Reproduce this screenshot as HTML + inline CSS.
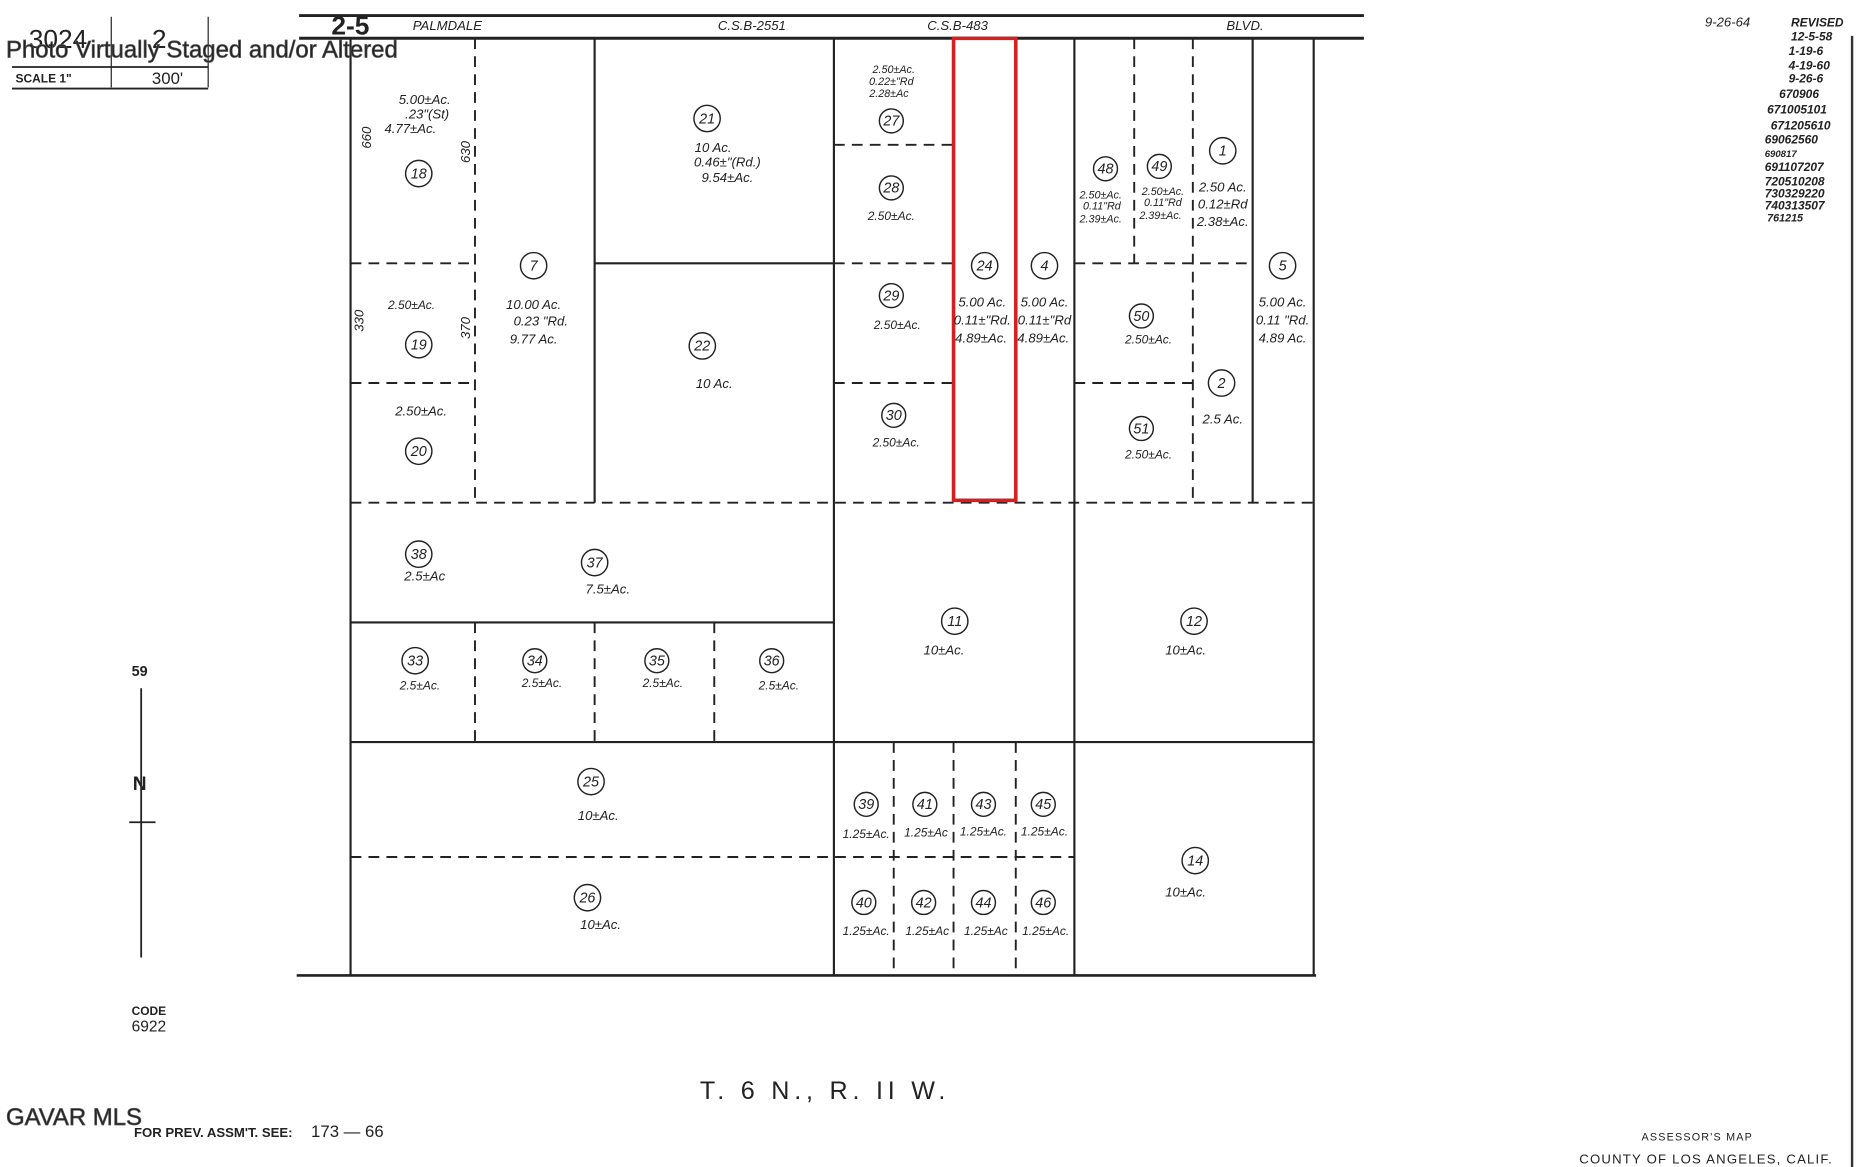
<!DOCTYPE html>
<html><head><meta charset="utf-8"><style>
html,body{margin:0;padding:0;background:#fff;width:1876px;height:1167px;overflow:hidden}
svg{display:block}
text{font-family:"Liberation Sans",sans-serif;fill:#222}
.i{font-style:italic;font-size:11px}
.n{font-style:italic;font-size:12px}
</style></head><body>
<svg width="1876" height="1167" viewBox="0 0 1568 975" preserveAspectRatio="none">
<g stroke="#222" stroke-width="1.8" fill="none">
<line x1="250" y1="13" x2="1140" y2="13" stroke-width="2.5"/>
<line x1="250" y1="32" x2="1140" y2="32" stroke-width="2.5"/>
<line x1="293" y1="32" x2="293" y2="815"/>
<line x1="248" y1="815" x2="1100" y2="815" stroke-width="2.2"/>
<line x1="1098" y1="32" x2="1098" y2="815"/>
<line x1="497" y1="32" x2="497" y2="420"/>
<line x1="697" y1="32" x2="697" y2="815"/>
<line x1="898" y1="32" x2="898" y2="815"/>
<line x1="293" y1="520" x2="697" y2="520"/>
<line x1="293" y1="620" x2="1098" y2="620"/>
<line x1="497" y1="220" x2="697" y2="220"/>
<line x1="1047" y1="32" x2="1047" y2="420"/>
<line x1="849" y1="32" x2="849" y2="420"/>
</g>
<g stroke="#222" stroke-width="1.6" fill="none" stroke-dasharray="9,6">
<line x1="397" y1="32" x2="397" y2="420"/>
<line x1="397" y1="520" x2="397" y2="620"/>
<line x1="497" y1="520" x2="497" y2="620"/>
<line x1="597" y1="520" x2="597" y2="620"/>
<line x1="948" y1="32" x2="948" y2="220"/>
<line x1="997" y1="32" x2="997" y2="420"/>
<line x1="747" y1="620" x2="747" y2="815"/>
<line x1="797" y1="620" x2="797" y2="815"/>
<line x1="849" y1="620" x2="849" y2="815"/>
<line x1="293" y1="220" x2="397" y2="220"/>
<line x1="293" y1="320" x2="397" y2="320"/>
<line x1="898" y1="220" x2="1047" y2="220"/>
<line x1="898" y1="320" x2="997" y2="320"/>
<line x1="697" y1="121" x2="797" y2="121"/>
<line x1="697" y1="220" x2="797" y2="220"/>
<line x1="697" y1="320" x2="797" y2="320"/>
<line x1="293" y1="420" x2="1098" y2="420"/>
<line x1="293" y1="716" x2="898" y2="716"/>
</g>
<rect x="797" y="32" width="52" height="386" fill="none" stroke="#d42020" stroke-width="3"/>
<g stroke="#222" stroke-width="1.2" fill="none">
<circle cx="350" cy="145" r="11"/><circle cx="446" cy="222" r="11"/><circle cx="591" cy="99" r="11"/>
<circle cx="745" cy="101" r="10"/><circle cx="745" cy="157" r="10"/><circle cx="823" cy="222" r="11"/>
<circle cx="873" cy="222" r="11"/><circle cx="924" cy="141" r="10"/><circle cx="969" cy="139" r="10"/>
<circle cx="1022" cy="126" r="11"/><circle cx="1072" cy="222" r="11"/><circle cx="350" cy="288" r="11"/>
<circle cx="587" cy="289" r="11"/><circle cx="745" cy="247" r="10"/><circle cx="954" cy="264" r="10"/>
<circle cx="1021" cy="320" r="11"/><circle cx="350" cy="377" r="11"/><circle cx="747" cy="347" r="10"/>
<circle cx="954" cy="358" r="10"/><circle cx="350" cy="463" r="11"/><circle cx="497" cy="470" r="11"/>
<circle cx="798" cy="519" r="11"/><circle cx="998" cy="519" r="11"/><circle cx="347" cy="552" r="11"/>
<circle cx="447" cy="552" r="10"/><circle cx="549" cy="552" r="10"/><circle cx="645" cy="552" r="10"/>
<circle cx="494" cy="653" r="11"/><circle cx="724" cy="672" r="10"/><circle cx="773" cy="672" r="10"/>
<circle cx="822" cy="672" r="10"/><circle cx="872" cy="672" r="10"/><circle cx="999" cy="719" r="11"/>
<circle cx="491" cy="750" r="11"/><circle cx="722" cy="754" r="10"/><circle cx="772" cy="754" r="10"/>
<circle cx="822" cy="754" r="10"/><circle cx="872" cy="754" r="10"/>
</g>
<g class="n" text-anchor="middle" font-size="12">
<text x="350" y="149" class="n">18</text><text x="446" y="226" class="n">7</text><text x="591" y="103" class="n">21</text>
<text x="745" y="105" class="n">27</text><text x="745" y="161" class="n">28</text><text x="823" y="226" class="n">24</text>
<text x="873" y="226" class="n">4</text><text x="924" y="145" class="n">48</text><text x="969" y="143" class="n">49</text>
<text x="1022" y="130" class="n">1</text><text x="1072" y="226" class="n">5</text><text x="350" y="292" class="n">19</text>
<text x="587" y="293" class="n">22</text><text x="745" y="251" class="n">29</text><text x="954" y="268" class="n">50</text>
<text x="1021" y="324" class="n">2</text><text x="350" y="381" class="n">20</text><text x="747" y="351" class="n">30</text>
<text x="954" y="362" class="n">51</text><text x="350" y="467" class="n">38</text><text x="497" y="474" class="n">37</text>
<text x="798" y="523" class="n">11</text><text x="998" y="523" class="n">12</text><text x="347" y="556" class="n">33</text>
<text x="447" y="556" class="n">34</text><text x="549" y="556" class="n">35</text><text x="645" y="556" class="n">36</text>
<text x="494" y="657" class="n">25</text><text x="724" y="676" class="n">39</text><text x="773" y="676" class="n">41</text>
<text x="822" y="676" class="n">43</text><text x="872" y="676" class="n">45</text><text x="999" y="723" class="n">14</text>
<text x="491" y="754" class="n">26</text><text x="722" y="758" class="n">40</text><text x="772" y="758" class="n">42</text>
<text x="822" y="758" class="n">44</text><text x="872" y="758" class="n">46</text>
</g>
<g class="i" text-anchor="middle">
<text x="355" y="87">5.00±Ac.</text><text x="357" y="99">.23"(St)</text><text x="343" y="111">4.77±Ac.</text>
<text x="446" y="258">10.00 Ac.</text><text x="452" y="272">0.23 "Rd.</text><text x="446" y="287">9.77 Ac.</text>
<text x="596" y="127">10 Ac.</text><text x="608" y="139">0.46±"(Rd.)</text><text x="608" y="152">9.54±Ac.</text>
<text x="747" y="61" font-size="9">2.50±Ac.</text><text x="745" y="71" font-size="9">0.22±"Rd</text><text x="743" y="81" font-size="9">2.28±Ac</text>
<text x="745" y="184" font-size="10">2.50±Ac.</text><text x="750" y="275" font-size="10">2.50±Ac.</text><text x="749" y="373" font-size="10">2.50±Ac.</text>
<text x="821" y="256">5.00 Ac.</text><text x="821" y="271">0.11±"Rd.</text><text x="820" y="286">4.89±Ac.</text>
<text x="873" y="256">5.00 Ac.</text><text x="873" y="271">0.11±"Rd</text><text x="872" y="286">4.89±Ac.</text>
<text x="920" y="166" font-size="9">2.50±Ac.</text><text x="921" y="175" font-size="9">0.11"Rd</text><text x="920" y="186" font-size="9">2.39±Ac.</text>
<text x="972" y="163" font-size="9">2.50±Ac.</text><text x="972" y="172" font-size="9">0.11"Rd</text><text x="970" y="183" font-size="9">2.39±Ac.</text>
<text x="1022" y="160">2.50 Ac.</text><text x="1022" y="174">0.12±Rd</text><text x="1022" y="189">2.38±Ac.</text>
<text x="1072" y="256">5.00 Ac.</text><text x="1072" y="271">0.11 "Rd.</text><text x="1072" y="286">4.89 Ac.</text>
<text x="344" y="258" font-size="10">2.50±Ac.</text><text x="597" y="324">10 Ac.</text>
<text x="960" y="287" font-size="10">2.50±Ac.</text><text x="1022" y="354">2.5 Ac.</text>
<text x="352" y="347">2.50±Ac.</text><text x="960" y="383" font-size="10">2.50±Ac.</text>
<text x="355" y="485">2.5±Ac</text><text x="508" y="496">7.5±Ac.</text>
<text x="789" y="547">10±Ac.</text><text x="991" y="547">10±Ac.</text>
<text x="351" y="576" font-size="10">2.5±Ac.</text><text x="453" y="574" font-size="10">2.5±Ac.</text><text x="554" y="574" font-size="10">2.5±Ac.</text><text x="651" y="576" font-size="10">2.5±Ac.</text>
<text x="500" y="685">10±Ac.</text><text x="502" y="776">10±Ac.</text><text x="991" y="749">10±Ac.</text>
<text x="724" y="700" font-size="10">1.25±Ac.</text><text x="774" y="699" font-size="10">1.25±Ac</text><text x="822" y="698" font-size="10">1.25±Ac.</text><text x="873" y="698" font-size="10">1.25±Ac.</text>
<text x="724" y="781" font-size="10">1.25±Ac.</text><text x="775" y="781" font-size="10">1.25±Ac</text><text x="824" y="781" font-size="10">1.25±Ac</text><text x="874" y="781" font-size="10">1.25±Ac.</text>
<text x="310" y="135" transform="rotate(-90 300 125)">660</text><text x="393" y="135" transform="rotate(-90 389 131)">630</text>
<text x="300" y="272" transform="rotate(-90 300 268)">330</text><text x="389" y="278" transform="rotate(-90 389 274)">370</text>
</g>
<g class="i" font-size="11">
<text x="345" y="25">PALMDALE</text><text x="600" y="25">C.S.B-2551</text><text x="775" y="25">C.S.B-483</text><text x="1025" y="25">BLVD.</text>
</g>
<text x="277" y="29" font-size="22" font-weight="bold">2-5</text>
<text x="24" y="40" font-size="22">3024</text><text x="127" y="40" font-size="22">2</text>
<line x1="93" y1="14" x2="93" y2="73" stroke="#222"/><line x1="174" y1="14" x2="174" y2="73" stroke="#222"/>
<line x1="10" y1="56" x2="174" y2="56" stroke="#222" stroke-width="1.5"/><line x1="10" y1="74" x2="174" y2="74" stroke="#222" stroke-width="1.5"/>
<text x="13" y="69" font-size="10" font-weight="bold">SCALE 1"</text><text x="127" y="70" font-size="14">300'</text>
<text x="5" y="48" font-size="20" fill="#fff" stroke="#555" stroke-width="0.6">Photo Virtually Staged and/or Altered</text>
<g font-size="11" class="i"><text x="1425" y="22">9-26-64</text></g>
<g font-size="10" font-style="italic" font-weight="bold">
<text x="1497" y="22">REVISED</text><text x="1497" y="34">12-5-58</text><text x="1495" y="46">1-19-6</text><text x="1495" y="58">4-19-60</text><text x="1495" y="69" fill="#888">9-26-6</text>
<text x="1487" y="82">670906</text><text x="1477" y="95">671005101</text><text x="1480" y="108">671205610</text><text x="1475" y="120">69062560</text><text x="1475" y="131" font-size="8">690817</text>
<text x="1475" y="143">691107207</text><text x="1475" y="155">720510208</text><text x="1475" y="165">730329220</text><text x="1475" y="175">740313507</text><text x="1477" y="185" font-size="9">761215</text>
</g>
<line x1="1548" y1="30" x2="1548" y2="975" stroke="#333" stroke-width="2"/>
<line x1="118" y1="575" x2="118" y2="800" stroke="#222" stroke-width="1.5"/>
<text x="110" y="565" font-size="12" font-weight="bold">59</text>
<text x="111" y="660" font-size="16" font-weight="bold">N</text>
<line x1="108" y1="687" x2="130" y2="687" stroke="#222" stroke-width="1.5"/>
<text x="110" y="848" font-size="10" font-weight="bold">CODE</text><text x="110" y="862" font-size="13">6922</text>
<text x="585" y="918" font-size="21" letter-spacing="4">T. 6 N., R. II W.</text>
<text x="5" y="940" font-size="20" fill="#fff" stroke="#555" stroke-width="0.6">GAVAR MLS</text>
<text x="112" y="950" font-size="11" font-weight="bold">FOR PREV. ASSM'T. SEE:</text><text x="260" y="950" font-size="14">173 — 66</text>
<text x="1372" y="953" font-size="9" letter-spacing="1">ASSESSOR'S MAP</text>
<text x="1320" y="972" font-size="11" letter-spacing="1">COUNTY OF LOS ANGELES, CALIF.</text>
</svg>
</body></html>
